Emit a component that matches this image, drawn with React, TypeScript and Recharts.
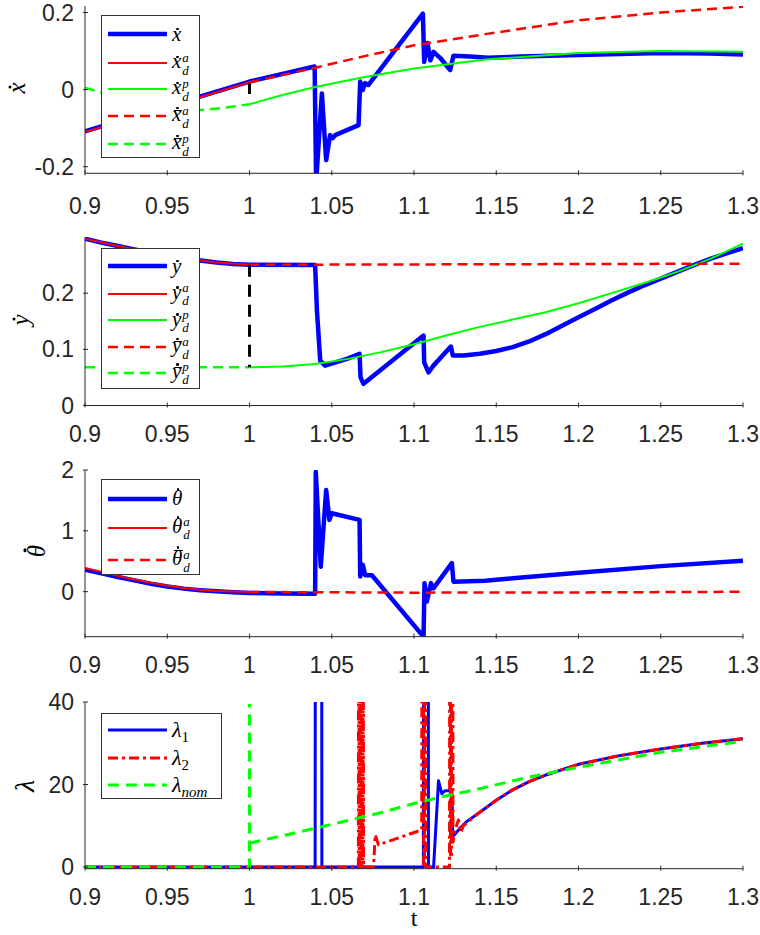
import React from "react";
import { LineChart, Line, XAxis, YAxis } from "recharts";

type P = [number, number];

const AX = "#262626";
const SANS = '"Liberation Sans", Arial, sans-serif';
const SERIF = '"Liberation Serif", "DejaVu Serif", serif';
const BLUE = "#0000ff";
const RED = "#ff0000";
const GREEN = "#00ff00";

const tTicks = [0.9, 0.95, 1, 1.05, 1.1, 1.15, 1.2, 1.25, 1.3];

// ---- panel 1: x velocity
const xDotTicks = [-0.2, 0, 0.2];
const xDot: P[] = [
  [0.9, -0.108], [1.0, 0.021], [1.0396, 0.06], [1.0405, -0.24], [1.044, -0.01], [1.0466, -0.183],
  [1.049, -0.118], [1.0505, -0.126], [1.0521, -0.118], [1.0663, -0.092], [1.0673, 0.021], [1.0688, -0.001],
  [1.0703, 0.017], [1.0722, 0.012], [1.1054, 0.197], [1.1062, 0.072], [1.1082, 0.121], [1.1099, 0.076],
  [1.1119, 0.098], [1.116, 0.082], [1.122, 0.051], [1.124, 0.088], [1.134, 0.086], [1.145, 0.083],
  [1.165, 0.086], [1.2, 0.09], [1.25, 0.095], [1.28, 0.094], [1.3, 0.091],
];
const xDa: P[] = [[0.9, -0.11], [1.0, 0.019]];
const xDp: P[] = [
  [1.0, -0.038], [1.02, -0.014], [1.04, 0.007], [1.07, 0.033], [1.1, 0.055], [1.1433, 0.078],
  [1.2, 0.095], [1.25, 0.1], [1.3, 0.098],
];
const xBarA: P[] = [
  [1.0, 0.019], [1.04, 0.057], [1.07, 0.087], [1.1, 0.115], [1.1433, 0.144], [1.2, 0.18], [1.25, 0.2], [1.3, 0.215],
];
const xBarP: P[] = [
  [0.9, 0.005], [0.91, -0.008], [0.92, -0.021], [0.93, -0.034], [0.94, -0.044], [0.95, -0.051],
  [0.96, -0.054], [0.97, -0.053], [0.98, -0.049], [0.99, -0.044], [1.0, -0.038],
];
const xJump: P[] = [[1.0, 0.016], [1.0, -0.011]];

// ---- panel 2: y velocity
const yDotTicks = [0, 0.1, 0.2];
const yDot: P[] = [
  [0.9, 0.297], [0.91, 0.29], [0.92, 0.284], [0.93, 0.278], [0.94, 0.272], [0.95, 0.267], [0.96, 0.262],
  [0.97, 0.258], [0.98, 0.2545], [0.99, 0.252], [1.0, 0.2505], [1.0399, 0.25], [1.041, 0.169], [1.043, 0.08],
  [1.046, 0.071], [1.0592, 0.083], [1.0669, 0.092], [1.0675, 0.05], [1.0693, 0.0386], [1.1058, 0.1245],
  [1.1062, 0.077], [1.1088, 0.059], [1.1118, 0.071], [1.1224, 0.105], [1.1236, 0.089], [1.13, 0.089],
  [1.14, 0.092], [1.15, 0.097], [1.16, 0.104], [1.17, 0.114], [1.18, 0.127], [1.19, 0.142], [1.2, 0.157],
  [1.21, 0.172], [1.22, 0.187], [1.23, 0.201], [1.24, 0.214], [1.25, 0.226], [1.26, 0.238], [1.27, 0.25],
  [1.28, 0.261], [1.29, 0.271], [1.3, 0.28],
];
const yDa: P[] = [[0.9, 0.297], [0.92, 0.284], [0.94, 0.272], [0.96, 0.262], [0.98, 0.2545], [1.0, 0.2505]];
const yDp: P[] = [
  [1.0, 0.068], [1.02, 0.0695], [1.04, 0.074], [1.06, 0.083], [1.08, 0.095], [1.1, 0.109], [1.12, 0.125],
  [1.14, 0.14], [1.16, 0.153], [1.18, 0.166], [1.2, 0.182], [1.22, 0.2], [1.24, 0.218], [1.26, 0.238],
  [1.28, 0.261], [1.3, 0.288],
];
const yBarA: P[] = [[1.0, 0.2505], [1.3, 0.2525]];
const yBarP: P[] = [[0.9, 0.068], [1.0, 0.068]];
const yJump: P[] = [[1.0, 0.2505], [1.0, 0.068]];

// ---- panel 3: angular velocity
const thTicks = [0, 1, 2];
const thDot: P[] = [
  [0.9, 0.36], [0.91, 0.3], [0.92, 0.24], [0.93, 0.185], [0.94, 0.13], [0.95, 0.085], [0.96, 0.05],
  [0.97, 0.025], [0.98, 0.005], [0.99, -0.01], [1.0, -0.02], [1.02, -0.03], [1.0399, -0.033], [1.0403, 1.97],
  [1.0433, 0.41], [1.0466, 1.67], [1.0486, 1.18], [1.05, 1.29], [1.0669, 1.18], [1.0673, 0.25], [1.0689, 0.44],
  [1.0703, 0.27], [1.0744, 0.27], [1.1058, -0.74], [1.1064, 0.14], [1.1078, -0.16], [1.1103, 0.14],
  [1.1118, 0.055], [1.123, 0.47], [1.124, 0.165], [1.1433, 0.18], [1.16, 0.22], [1.2, 0.31], [1.25, 0.42],
  [1.3, 0.51],
];
const thDa: P[] = [
  [0.9, 0.39], [0.91, 0.325], [0.92, 0.26], [0.93, 0.2], [0.94, 0.145], [0.95, 0.1], [0.96, 0.062],
  [0.97, 0.033], [0.98, 0.013], [0.99, 0.003], [1.0, 0],
];
const thBarA: P[] = [[1.0, -0.005], [1.1, -0.016], [1.2, -0.012], [1.3, -0.002]];

// ---- panel 4: multipliers
const lamTicks = [0, 20, 40];
const lam1: P[] = [
  [0.9, 0], [1.0399, 0], [1.04, 60], [1.0439, 60], [1.044, 0], [1.1057, 0], [1.1058, 60], [1.1087, 60],
  [1.1088, 0], [1.1119, 0], [1.1149, 20.9], [1.1169, 17.8], [1.119, 18.5], [1.123, 18.5], [1.1236, 7.4],
  [1.126, 8.5], [1.129, 9.8], [1.132, 11], [1.14, 13.3], [1.15, 16.2], [1.16, 18.7], [1.17, 20.7],
  [1.18, 22.3], [1.2, 24.9], [1.225, 27], [1.25, 28.6], [1.275, 30], [1.3, 31.1],
];
const lam2: P[] = [
  [0.9, 0], [1.0662, 0], [1.0663, 60], [1.0666, 60], [1.0667, 0], [1.0675, 0], [1.0676, 60], [1.0679, 60],
  [1.068, 0], [1.0689, 0], [1.069, 60], [1.0692, 60], [1.0693, 0], [1.0754, 0], [1.0764, 7.8], [1.0784, 5.4],
  [1.1047, 9.0], [1.1048, 60], [1.1058, 60], [1.1059, 0], [1.1064, 0], [1.1065, 60], [1.1071, 60],
  [1.1072, 0], [1.1216, 0], [1.1217, 60], [1.1221, 60], [1.1222, 3], [1.1228, 3], [1.1229, 60],
  [1.1236, 60], [1.1237, 6], [1.125, 9], [1.127, 11.4], [1.1285, 8.4], [1.13, 10], [1.14, 13.3],
  [1.15, 16.2], [1.16, 18.7], [1.17, 20.7], [1.18, 22.3], [1.2, 24.9], [1.225, 27], [1.25, 28.6],
  [1.275, 30], [1.3, 31.1],
];
const lamNomPre: P[] = [[0.9, 0], [1.0, 0], [1.0, 39.5]];
const lamNom: P[] = [
  [1.0, 5.8], [1.02, 7.6], [1.04, 9.4], [1.06, 11.3], [1.08, 13.2], [1.1, 15.4], [1.12, 17.3],
  [1.14, 19.0], [1.17, 21.8], [1.2, 24.2], [1.25, 27.8], [1.3, 30.5],
];

const pts = (a: P[]) => a.map(([t, v]) => ({ t, v }));

const xTickAt = (off: number) => (p: any) => (
  <g>
    <line x1={p.x} x2={p.x} y1={p.y} y2={p.y - 5} stroke={AX} strokeWidth={1} />
    <text x={p.x} y={p.y + off} textAnchor="middle" fontSize={23} fill={AX} fontFamily={SANS}>
      {String(p.payload.value)}
    </text>
  </g>
);

const yTick = (p: any) => (
  <g>
    <line x1={p.x} x2={p.x + 5} y1={p.y} y2={p.y} stroke={AX} strokeWidth={1} />
    <text x={p.x - 9} y={p.y + 8} textAnchor="end" fontSize={23} fill={AX} fontFamily={SANS}>
      {String(p.payload.value)}
    </text>
  </g>
);

function series(data: P[], stroke: string, w: number, dash?: string) {
  return (
    <Line
      data={pts(data)}
      dataKey="v"
      type="linear"
      stroke={stroke}
      strokeWidth={w}
      strokeDasharray={dash}
      strokeLinejoin="round"
      dot={false}
      activeDot={false}
      isAnimationActive={false}
    />
  );
}

function Panel({ top, plotH, domain, ticks, labelOff, children }: any) {
  return (
    <div style={{ position: "absolute", left: 0, top: top - 16 }}>
      <LineChart width={760} height={plotH + 71} margin={{ top: 16, right: 17, bottom: 0, left: 0 }}>
        <XAxis
          type="number"
          dataKey="t"
          domain={[0.9, 1.3]}
          ticks={tTicks}
          allowDataOverflow
          interval={0}
          tickSize={0}
          tickLine={false}
          axisLine={{ stroke: AX, strokeWidth: 1 }}
          tick={xTickAt(labelOff)}
          height={55}
        />
        <YAxis
          type="number"
          dataKey="v"
          domain={domain}
          ticks={ticks}
          allowDataOverflow
          interval={0}
          tickSize={0}
          tickLine={false}
          axisLine={{ stroke: AX, strokeWidth: 1 }}
          tick={yTick}
          width={85}
        />
        {children}
      </LineChart>
    </div>
  );
}

// letter with a dot (and optionally a bar) on top
function Acc({ ch, tall, bar }: { ch: string; tall?: boolean; bar?: boolean }) {
  const base = tall ? 0.0 : 0.2;
  const dotTop = bar ? base - 0.1 : base;
  return (
    <span style={{ position: "relative", display: "inline-block", lineHeight: 1 }}>
      {ch}
      {bar && (
        <span
          style={{
            position: "absolute", left: "18%", right: "-4%", top: `${base + 0.08}em`,
            borderTop: "0.06em solid #000",
          }}
        />
      )}
      <span
        style={{
          position: "absolute", left: "58%", top: `${dotTop}em`, width: "0.13em", height: "0.13em",
          marginLeft: "-0.065em", borderRadius: "50%", background: "#000",
        }}
      />
    </span>
  );
}

function Sym({ ch, tall, bar, sup, sub, size = 21 }: any) {
  return (
    <span style={{ fontFamily: SERIF, fontStyle: "italic", fontSize: size, color: "#000", whiteSpace: "nowrap" }}>
      <Acc ch={ch} tall={tall} bar={bar} />
      {(sup || sub) && (
        <span
          style={{
            display: "inline-flex", flexDirection: "column", fontSize: 13, lineHeight: "13px",
            verticalAlign: "middle", marginLeft: 1,
          }}
        >
          <span>{sup}</span>
          <span>{sub}</span>
        </span>
      )}
    </span>
  );
}

function Lam({ sub, upright }: { sub: string; upright?: boolean }) {
  return (
    <span style={{ fontFamily: SERIF, fontStyle: "italic", fontSize: 22, color: "#000", whiteSpace: "nowrap" }}>
      {"\u03bb"}
      <span style={{ fontSize: 15, fontStyle: upright ? "normal" : "italic", position: "relative", top: 5 }}>{sub}</span>
    </span>
  );
}

type Row = { y: number; stroke: string; w: number; dash?: string; label: React.ReactNode };

function Legend({ left, top, width, height, rows }: { left: number; top: number; width: number; height: number; rows: Row[] }) {
  return (
    <div
      style={{
        position: "absolute", left, top, width, height, boxSizing: "border-box",
        border: "1px solid #333", background: "#fff",
      }}
    >
      {rows.map((r, i) => (
        <div key={i} style={{ position: "absolute", left: 0, top: r.y - top - 13, height: 26, display: "flex", alignItems: "center" }}>
          <svg width={59} height={10} style={{ marginLeft: 6 }}>
            <line x1={0} x2={59} y1={5} y2={5} stroke={r.stroke} strokeWidth={r.w} strokeDasharray={r.dash} />
          </svg>
          <span style={{ marginLeft: 5 }}>{r.label}</span>
        </div>
      ))}
    </div>
  );
}

function YLab({ cx, cy, size = 25, children }: { cx: number; cy: number; size?: number; children: React.ReactNode }) {
  return (
    <div
      style={{
        position: "absolute", left: cx, top: cy, transform: "translate(-50%, -50%) rotate(-90deg)",
        fontFamily: SERIF, fontStyle: "italic", fontSize: size, lineHeight: 1, color: "#000",
      }}
    >
      {children}
    </div>
  );
}

export default function App() {
  return (
    <div style={{ position: "absolute", left: 0, top: 0, width: 760, height: 935, background: "#fff" }}>
      <Panel top={6} plotH={167.3} domain={[-0.217, 0.217]} ticks={xDotTicks} labelOff={39}>
        {series(xDot, BLUE, 4.5)}
        {series(xDa, RED, 2)}
        {series(xDp, GREEN, 2)}
        {series(xBarA, RED, 2.5, "10 6")}
        {series(xBarP, GREEN, 2.5, "10 6")}
        {series(xJump, "#000", 3, "12 8")}
      </Panel>
      <Panel top={236.5} plotH={168.5} domain={[0, 0.3]} ticks={yDotTicks} labelOff={34}>
        {series(yDot, BLUE, 4.5)}
        {series(yDa, RED, 2)}
        {series(yDp, GREEN, 2)}
        {series(yBarA, RED, 2.5, "10 6")}
        {series(yBarP, GREEN, 2.5, "10 6")}
        {series(yJump, "#000", 3, "12 8")}
      </Panel>
      <Panel top={470} plotH={166.7} domain={[-0.74, 2]} ticks={thTicks} labelOff={34}>
        {series(thDot, BLUE, 4.5)}
        {series(thDa, RED, 2)}
        {series(thBarA, RED, 2.5, "10 6")}
      </Panel>
      <Panel top={702.3} plotH={166.7} domain={[-0.4, 40]} ticks={lamTicks} labelOff={34}>
        {series(lam1, BLUE, 3)}
        {series(lam2, RED, 3, "10 4 3 4")}
        {series(lamNomPre, GREEN, 3, "11 7")}
        {series(lamNom, GREEN, 3, "11 7")}
      </Panel>

      <Legend
        left={101} top={15} width={99} height={143}
        rows={[
          { y: 33, stroke: BLUE, w: 4.5, label: <Sym ch="x" /> },
          { y: 62, stroke: RED, w: 2, label: <Sym ch="x" sup="a" sub="d" /> },
          { y: 88, stroke: GREEN, w: 2, label: <Sym ch="x" sup="p" sub="d" /> },
          { y: 115, stroke: RED, w: 2.5, dash: "10 6", label: <Sym ch="x" bar sup="a" sub="d" /> },
          { y: 143, stroke: GREEN, w: 2.5, dash: "10 6", label: <Sym ch="x" bar sup="p" sub="d" /> },
        ]}
      />
      <Legend
        left={101} top={248} width={99} height={141}
        rows={[
          { y: 265, stroke: BLUE, w: 4.5, label: <Sym ch="y" /> },
          { y: 292.7, stroke: RED, w: 2, label: <Sym ch="y" sup="a" sub="d" /> },
          { y: 319.3, stroke: GREEN, w: 2, label: <Sym ch="y" sup="p" sub="d" /> },
          { y: 346, stroke: RED, w: 2.5, dash: "10 6", label: <Sym ch="y" bar sup="a" sub="d" /> },
          { y: 371.7, stroke: GREEN, w: 2.5, dash: "10 6", label: <Sym ch="y" bar sup="p" sub="d" /> },
        ]}
      />
      <Legend
        left={101} top={479} width={99} height={96}
        rows={[
          { y: 497.7, stroke: BLUE, w: 4.5, label: <Sym ch={"\u03b8"} tall /> },
          { y: 526.7, stroke: RED, w: 2, label: <Sym ch={"\u03b8"} tall sup="a" sub="d" /> },
          { y: 559, stroke: RED, w: 2.5, dash: "10 6", label: <Sym ch={"\u03b8"} tall bar sup="a" sub="d" /> },
        ]}
      />
      <Legend
        left={101} top={713} width={121} height={86}
        rows={[
          { y: 729.3, stroke: BLUE, w: 3, label: <Lam sub="1" upright /> },
          { y: 756.7, stroke: RED, w: 3, dash: "10 4 3 4", label: <Lam sub="2" upright /> },
          { y: 784.3, stroke: GREEN, w: 3, dash: "11 7", label: <Lam sub="nom" /> },
        ]}
      />

      <YLab cx={16} cy={88}><Acc ch="x" /></YLab>
      <YLab cx={20} cy={320}><Acc ch="y" /></YLab>
      <YLab cx={36} cy={551}><Acc ch={"\u03b8"} tall /></YLab>
      <YLab cx={25} cy={786} size={28}>{"\u03bb"}</YLab>

      <div
        style={{
          position: "absolute", left: 414, top: 918, transform: "translate(-50%, -50%)",
          fontFamily: SERIF, fontSize: 24, lineHeight: 1, color: "#000",
        }}
      >
        t
      </div>
    </div>
  );
}
